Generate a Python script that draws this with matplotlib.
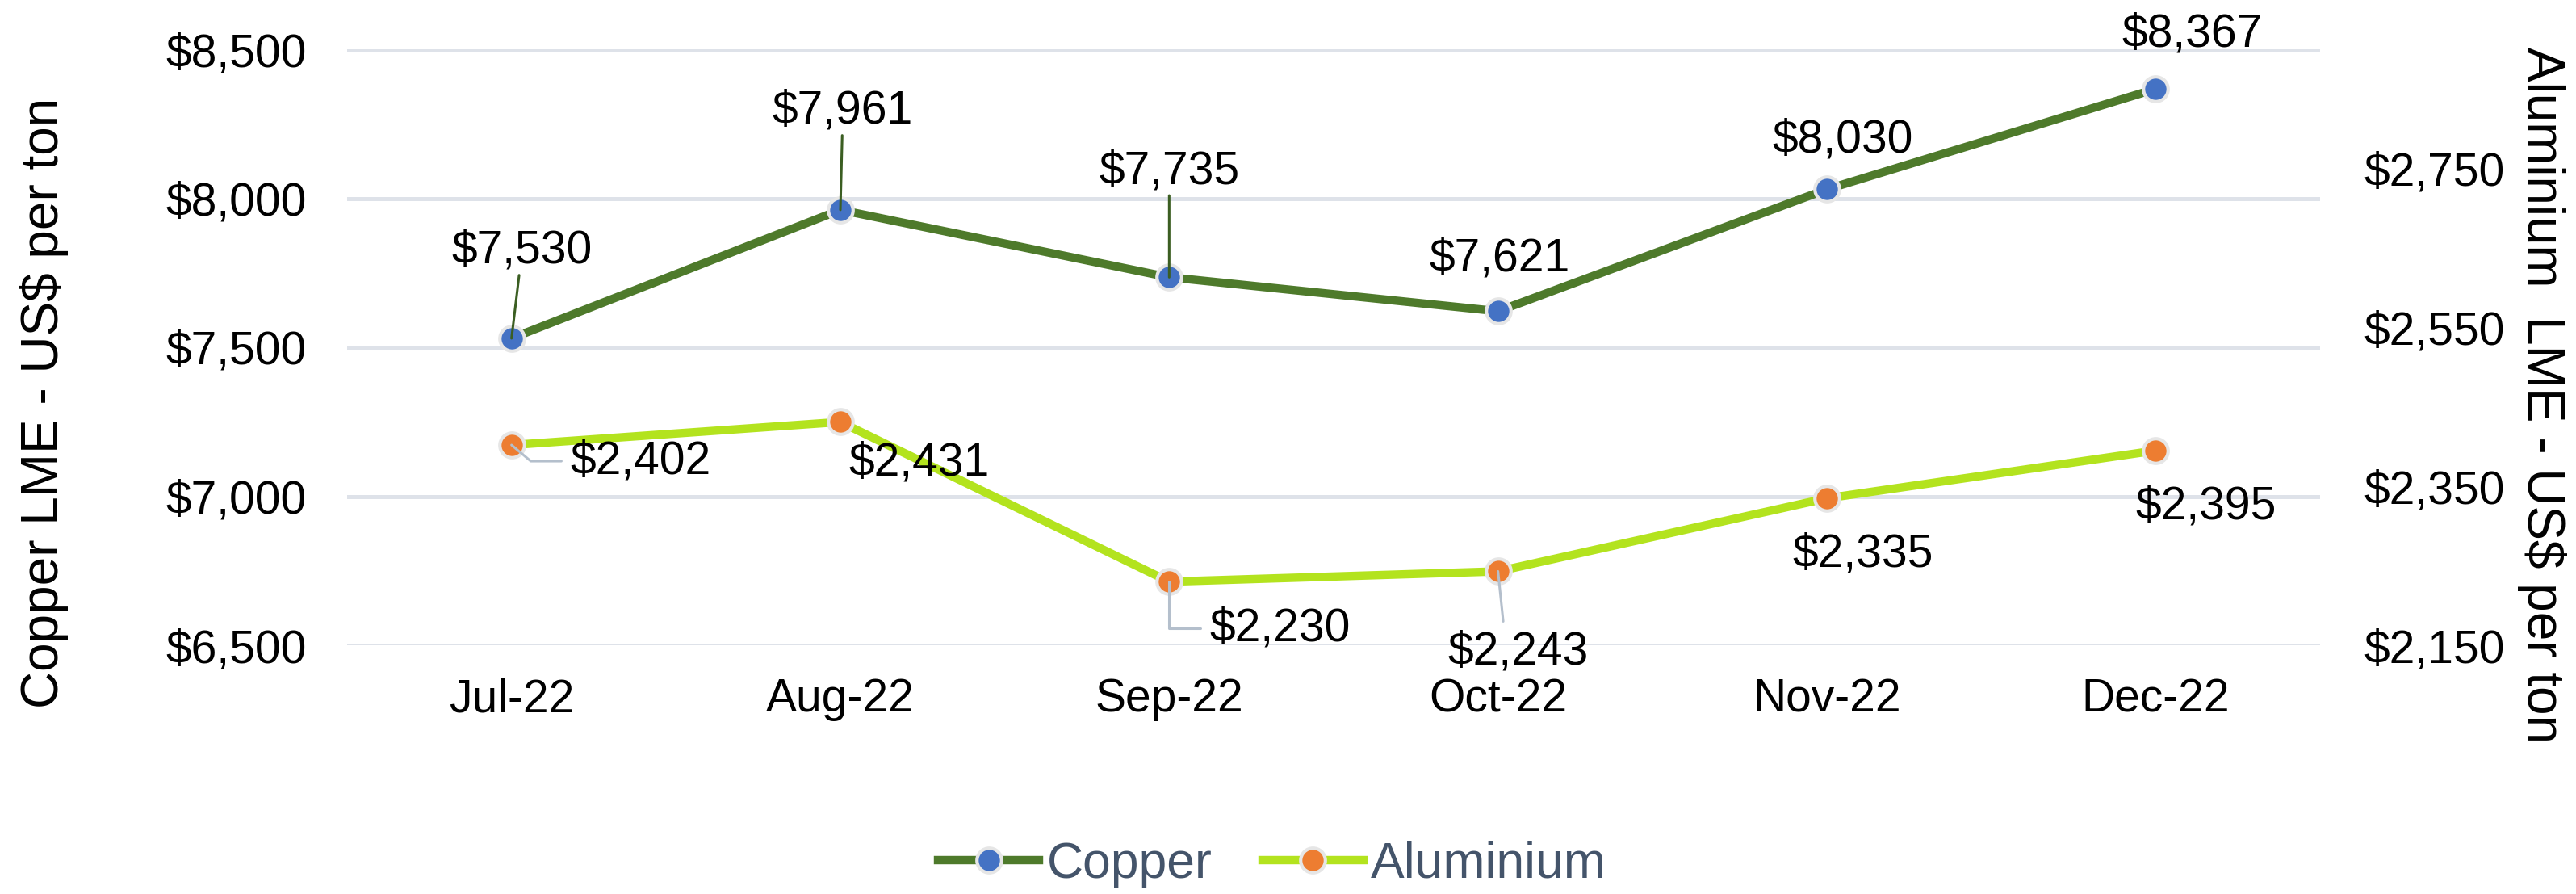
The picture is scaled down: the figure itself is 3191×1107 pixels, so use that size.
import matplotlib
matplotlib.use("Agg")
import matplotlib.pyplot as plt
from matplotlib.lines import Line2D

plt.rcParams['font.family'] = ['Liberation Sans', 'DejaVu Sans']

months = ["Jul-22", "Aug-22", "Sep-22", "Oct-22", "Nov-22", "Dec-22"]
copper = [7530, 7961, 7735, 7621, 8030, 8367]
aluminium = [2402, 2431, 2230, 2243, 2335, 2395]
copper_ticks = [6500, 7000, 7500, 8000, 8500]
alu_ticks = [2150, 2350, 2550, 2750]

# label offsets in pixels (dx, dy downward) and leader-line style (None = no line)
copper_off = [(13, -108), (3, -122), (0, -131), (2, -65), (20, -61), (45, -68)]
copper_lead = ["arc3", "arc3", "arc3", None, None, None]
alu_off = [(160, 20), (98, 51), (137, 58), (25, 100), (45, 70), (62, 70)]
alu_lead = ["angle,angleA=0,angleB=-40,rad=0", None,
            "angle,angleA=0,angleB=90,rad=0", "arc3", None, None]
alu_relpos = [(0, 0.5), (0.5, 0.5), (0, 0.5), (0.4, 1.0), (0.5, 0.5), (0.5, 0.5)]

C_LINE = "#4E7A2B"
C_MARK = "#4472C4"
A_LINE = "#B3E31E"
A_MARK = "#ED7D31"
GRID = "#DEE2E9"
FS = 41
LW = 7.5
MS = 22

W, H = 3191, 1107
fig = plt.figure(figsize=(W / 100, H / 100), dpi=100)
left, right, top, bottom = 430, 2874, 61, 799
ax = fig.add_axes([left / W, 1 - bottom / H, (right - left) / W, (bottom - top) / H])
ax2 = ax.twinx()

x = list(range(len(months)))
ax.plot(x, copper, color=C_LINE, lw=LW, marker='o', ms=MS, mfc=C_MARK,
        mec="#E6E6E6", mew=3, solid_capstyle='round', zorder=3)
ax2.plot(x, aluminium, color=A_LINE, lw=LW, marker='o', ms=MS, mfc=A_MARK,
         mec="#E6E6E6", mew=3, solid_capstyle='round', zorder=3)

ax.set_xlim(-0.5, len(months) - 0.5)
ax.set_ylim(6500, 8500)
ax2.set_ylim(2150, 2900)
ax.set_yticks(copper_ticks)
ax.set_yticklabels([f"${v:,}" for v in copper_ticks], fontsize=FS)
ax2.set_yticks(alu_ticks)
ax2.set_yticklabels([f"${v:,}" for v in alu_ticks], fontsize=FS)
ax.set_xticks(x)
ax.set_xticklabels(months, fontsize=FS)
ax.tick_params(axis='y', length=0, pad=36)
ax2.tick_params(axis='y', length=0, pad=39)
ax.tick_params(axis='x', length=0, pad=29)
ax.grid(axis='y', color=GRID, lw=3.6, zorder=0)
ax.set_axisbelow(True)
for a in (ax, ax2):
    for s in a.spines.values():
        s.set_visible(False)

for i, v in enumerate(copper):
    dx, dy = copper_off[i]
    kw = {}
    if copper_lead[i]:
        kw['arrowprops'] = dict(arrowstyle='-', color="#3B5E22", lw=2.2,
                                shrinkA=0, shrinkB=0, connectionstyle=copper_lead[i])
    ax.annotate(f"${v:,}", (x[i], v), xytext=(dx, -dy), textcoords='offset pixels',
                ha='center', va='center', fontsize=FS, zorder=5, **kw)

for i, v in enumerate(aluminium):
    dx, dy = alu_off[i]
    kw = {}
    if alu_lead[i]:
        kw['arrowprops'] = dict(arrowstyle='-', color="#B4BFCC", lw=2.2,
                                shrinkA=6, shrinkB=0, relpos=alu_relpos[i],
                                connectionstyle=alu_lead[i])
    ax2.annotate(f"${v:,}", (x[i], v), xytext=(dx, -dy), textcoords='offset pixels',
                 ha='center', va='center', fontsize=FS, zorder=5, **kw)

fig.text(55 / W, 1 - 499 / H, "Copper LME - US$ per ton", rotation=90,
         ha='center', va='center', fontsize=46)
fig.text(3148 / W, 1 - 489 / H, "Aluminium  LME - US$ per ton", rotation=270,
         ha='center', va='center', fontsize=46)

handles = [
    Line2D([], [], color=C_LINE, lw=LW, marker='o', ms=MS, mfc=C_MARK, mec="#E6E6E6", mew=3),
    Line2D([], [], color=A_LINE, lw=LW, marker='o', ms=MS, mfc=A_MARK, mec="#E6E6E6", mew=3),
]
leg = fig.legend(handles, ["Copper", "Aluminium"], loc='center',
                 bbox_to_anchor=(1576 / W, 1 - 1070 / H), ncol=2, frameon=False,
                 fontsize=45, handlelength=2.0, handletextpad=0.15, columnspacing=1.0)
for t in leg.get_texts():
    t.set_color("#44546A")

fig.savefig("out.png", dpi=100, facecolor='white')
